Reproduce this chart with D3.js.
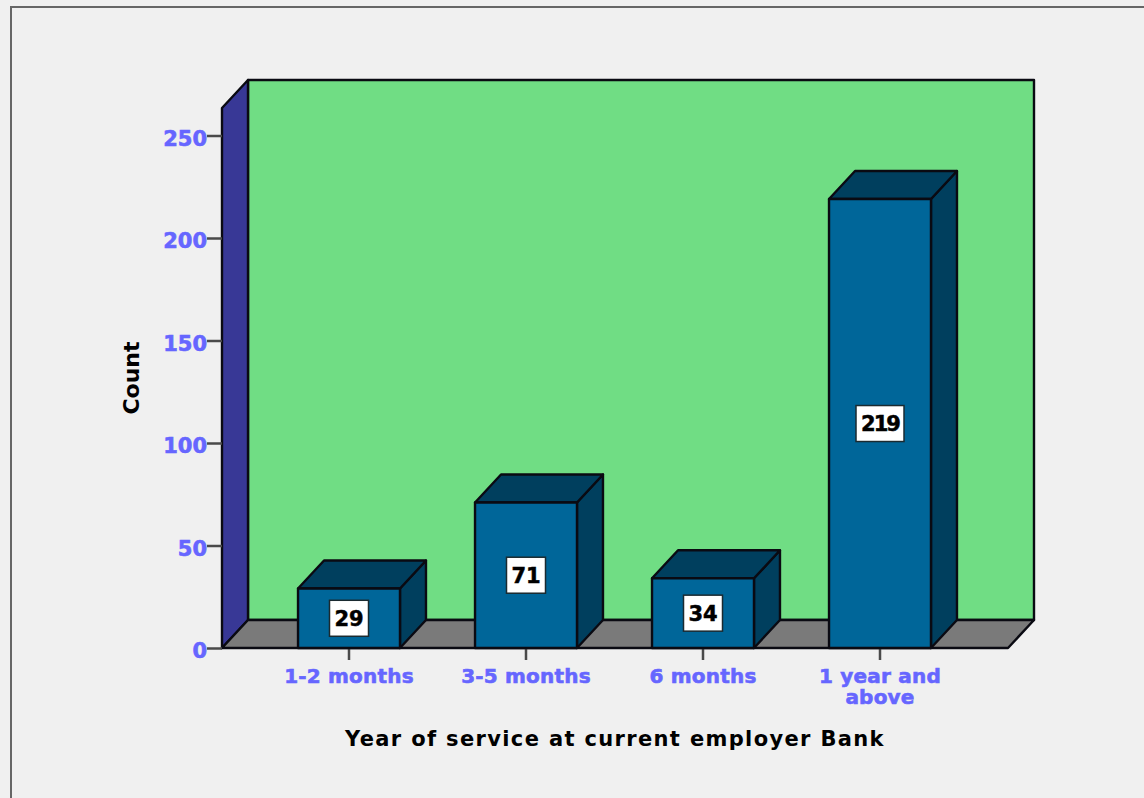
<!DOCTYPE html>
<html>
<head>
<meta charset="utf-8">
<script src="https://cdn.jsdelivr.net/npm/d3@7/dist/d3.min.js"></script>
<style>
html,body{margin:0;padding:0;background:#f0f0f0;overflow:hidden}
svg{display:block}
text{font-family:"DejaVu Sans",sans-serif}
</style>
</head>
<body>
<svg id="chart" width="1144" height="798"></svg>
<script>
// Bar values and labels
const categories = ["1-2 months", "3-5 months", "6 months", "1 year and above"];
const counts = [29, 71, 34, 219];
const countTicks = [0, 50, 100, 150, 200, 250];
const xTitle = "Year of service at current employer Bank";
const yTitle = "Count";

const svg = d3.select("#chart");

// Depth of the pseudo-3D extrusion
const dx = 26, dy = -28;
const ink = "#0a0a12";
const labelBlue = "#6666ff";

const y = d3.scaleLinear().domain([0, 250]).range([648, 135.5]);
const x = d3.scaleBand().domain(categories).range([260.5, 968.5])
  .paddingInner(0.424).paddingOuter(0.212);

const plotLeft = 222, plotRight = 1008, plotBase = y(0), plotTop = 108;

// Outer frame
svg.append("path")
  .attr("d", "M11,798V7H1144")
  .attr("fill", "none").attr("stroke", "#666").attr("stroke-width", 2);

// Back wall, side wall and floor
const poly = pts => "M" + pts.map(p => p.join(",")).join("L") + "Z";
const room = svg.append("g").attr("stroke", ink).attr("stroke-width", 2.4).attr("stroke-linejoin", "round");
room.append("path")
  .attr("d", poly([[plotLeft + dx, plotTop + dy], [plotRight + dx, plotTop + dy], [plotRight + dx, plotBase + dy], [plotLeft + dx, plotBase + dy]]))
  .attr("fill", "#70dd84");
room.append("path")
  .attr("d", poly([[plotLeft, plotTop], [plotLeft + dx, plotTop + dy], [plotLeft + dx, plotBase + dy], [plotLeft, plotBase]]))
  .attr("fill", "#383896");
room.append("path")
  .attr("d", poly([[plotLeft, plotBase], [plotLeft + dx, plotBase + dy], [plotRight + dx, plotBase + dy], [plotRight, plotBase]]))
  .attr("fill", "#7a7a7a");

// Axes
const yAxis = svg.append("g")
  .attr("transform", `translate(${plotLeft},0)`)
  .call(d3.axisLeft(y).tickValues(countTicks).tickSize(15).tickPadding(0));
const xAxis = svg.append("g")
  .attr("transform", `translate(0,${plotBase})`)
  .call(d3.axisBottom(x).tickSize(12).tickPadding(4).tickFormat(""));
[yAxis, xAxis].forEach(a => {
  a.select(".domain").remove();
  a.selectAll(".tick line").attr("stroke", "#4a4a4a").attr("stroke-width", 2.5);
});
yAxis.selectAll(".tick text")
  .attr("fill", labelBlue).attr("stroke", labelBlue).attr("stroke-width", 0.6)
  .attr("dy", "0.46em")
  .attr("font-size", 21).attr("font-weight", 700)
  .style("font-family", '"DejaVu Sans",sans-serif');

// Category labels, wrapped on two lines where they are long
const wrapped = { "1 year and above": ["1 year and", "above"] };
const catLabels = svg.append("g");
categories.forEach(c => {
  const lines = wrapped[c] || [c];
  lines.forEach((line, i) => {
    catLabels.append("text")
      .attr("x", x(c) + x.bandwidth() / 2)
      .attr("y", 683 + i * 21)
      .attr("text-anchor", "middle")
      .attr("fill", labelBlue).attr("stroke", labelBlue).attr("stroke-width", 0.6)
      .attr("font-size", 20).attr("font-weight", 700)
      .attr("letter-spacing", 0.2)
      .text(line);
  });
});

// Extruded bars
const bars = svg.append("g").selectAll("g").data(categories).join("g")
  .attr("stroke", ink).attr("stroke-width", 2.4).attr("stroke-linejoin", "round");
bars.each(function (c, i) {
  const g = d3.select(this);
  const l = x(c), r = l + x.bandwidth(), t = y(counts[i]), b = y(0);
  g.append("path").attr("fill", "#003f5e")
    .attr("d", poly([[r, t], [r + dx, t + dy], [r + dx, b + dy], [r, b]]));
  g.append("path").attr("fill", "#003f5e")
    .attr("d", poly([[l, t], [l + dx, t + dy], [r + dx, t + dy], [r, t]]));
  g.append("path").attr("fill", "#006699")
    .attr("d", poly([[l, t], [r, t], [r, b], [l, b]]));
});

// Value labels in white boxes at the middle of each bar
const valueLabels = svg.append("g").selectAll("g").data(categories).join("g")
  .attr("transform", (c, i) => `translate(${x(c) + x.bandwidth() / 2},${y(counts[i] / 2)})`);
const digitCount = i => String(counts[i]).length;
valueLabels.append("rect")
  .attr("x", (c, i) => -(21 + 9 * digitCount(i)) / 2)
  .attr("width", (c, i) => 21 + 9 * digitCount(i))
  .attr("y", -18).attr("height", 36)
  .attr("fill", "#fff").attr("stroke", "#1a2a30").attr("stroke-width", 1.5);
valueLabels.append("text")
  .attr("text-anchor", "middle").attr("dy", "0.36em")
  .attr("font-size", 21).attr("font-weight", 700)
  .attr("fill", "#000").attr("stroke", "#000").attr("stroke-width", 0.5)
  .attr("letter-spacing", (c, i) => digitCount(i) > 2 ? -2 : 0)
  .text((c, i) => counts[i]);

// Axis titles
svg.append("text")
  .attr("x", 615).attr("y", 746)
  .attr("text-anchor", "middle").attr("font-size", 21).attr("font-weight", 700)
  .attr("fill", "#000")
  .attr("letter-spacing", 1.35)
  .text(xTitle);
svg.append("text")
  .attr("transform", "translate(139,378) rotate(-90)")
  .attr("text-anchor", "middle").attr("font-size", 22).attr("font-weight", 700)
  .attr("fill", "#000")
  .text(yTitle);
</script>
</body>
</html>
